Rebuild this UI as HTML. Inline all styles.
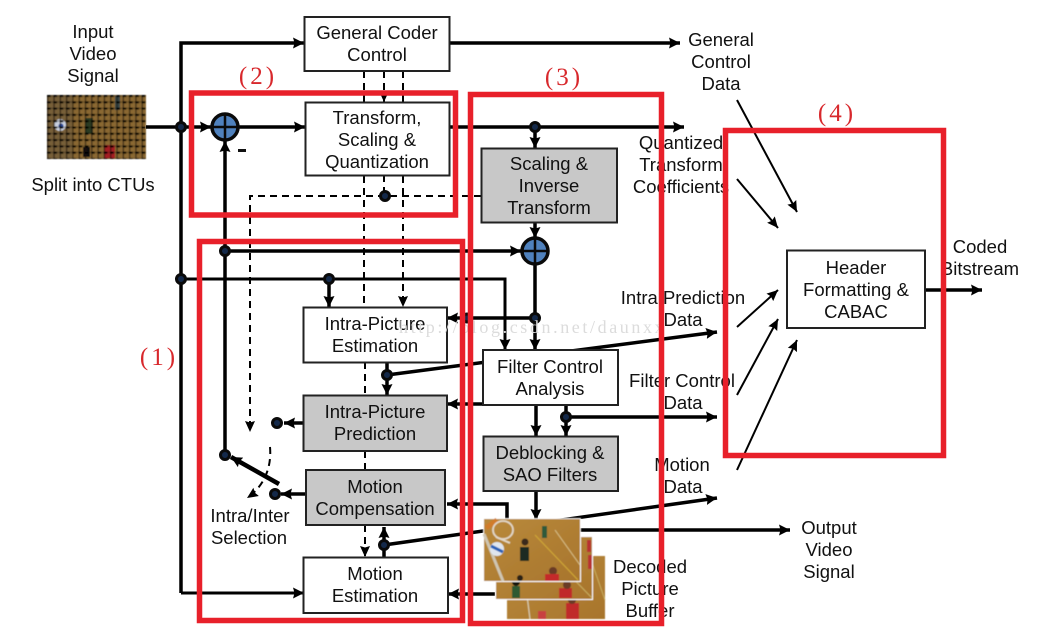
<!DOCTYPE html>
<html><head><meta charset="utf-8"><style>
html,body{margin:0;padding:0;background:#fff;width:1055px;height:633px;overflow:hidden}
svg{display:block;filter:blur(.35px)}
text{font-family:"Liberation Sans",Arial,sans-serif;font-size:18.5px;fill:#111;text-anchor:middle}
.box{stroke:#222;stroke-width:2;fill:#fff}
.g{fill:#c8c8c8}
.l{stroke:#000;stroke-width:3.5;fill:none}
.m{stroke:#000;stroke-width:3;fill:none}
.t{stroke:#000;stroke-width:2;fill:none}
.d{stroke:#000;stroke-width:2;fill:none;stroke-dasharray:7 5}
.j{fill:#14294a;stroke:#0a0a0a;stroke-width:3}
.r{fill:none;stroke:#e8202a;stroke-width:5.5}
.rt{font-family:"Liberation Serif",serif;font-size:25px;fill:#d8282c;letter-spacing:3px}
.w{font-family:"Liberation Serif",serif;font-size:18px;fill:#dcdcdc;text-anchor:start;letter-spacing:2.6px}
</style></head><body>
<svg width="1055" height="633" viewBox="0 0 1055 633" xmlns="http://www.w3.org/2000/svg">
<defs>
<marker id="a" markerUnits="userSpaceOnUse" markerWidth="14" markerHeight="14" refX="11" refY="6" orient="auto"><path d="M0,0.500L11,6L0,11.500L1.500,6Z" fill="#000"/></marker>
<marker id="b" markerUnits="userSpaceOnUse" markerWidth="14" markerHeight="14" refX="11" refY="6" orient="auto"><path d="M0,1L11,6L0,11L1.500,6Z" fill="#000"/></marker>
<pattern id="grid" width="6.3" height="6.3" patternUnits="userSpaceOnUse" x="47" y="95">
<rect x="0" y="0" width="1.5" height="6.3" fill="#15110a" opacity=".55"/><rect x="0" y="0" width="6.3" height="1.5" fill="#15110a" opacity=".3"/><rect x="0" y="0" width="3.6" height="2" fill="#000"/>
</pattern>
<linearGradient id="court" x1="0" y1="0" x2="1" y2="1"><stop offset="0" stop-color="#b98a3c"/><stop offset="1" stop-color="#a8752c"/></linearGradient>
<filter id="bl"><feGaussianBlur stdDeviation="0.6"/></filter>
</defs>
<rect width="1055" height="633" fill="#fff"/>

<!-- input image -->
<g filter="url(#bl)">
<rect x="47" y="95" width="99" height="64" fill="#8a6830"/>
<rect x="47" y="95" width="25" height="64" fill="#6f5a3a" opacity=".7"/>
<circle cx="60" cy="125" r="6" fill="#c9d0e0"/><circle cx="61" cy="126" r="2.500" fill="#2b4a9a"/>
<rect x="85" y="118" width="8" height="16" fill="#2a3a20"/><rect x="83" y="147" width="7" height="10" fill="#111"/>
<rect x="104" y="145" width="11" height="13" fill="#a51e22"/><rect x="115" y="96" width="5" height="14" fill="#3a4a4a"/>
<rect x="47" y="95" width="99" height="64" fill="url(#grid)"/>
</g>

<!-- labels under boxes -->
<text x="93" y="38">Input</text><text x="93" y="60">Video</text><text x="93" y="82">Signal</text>
<text x="93" y="191">Split into CTUs</text>
<text x="721" y="46">General</text><text x="721" y="68">Control</text><text x="721" y="90">Data</text>
<text x="681" y="149">Quantized</text><text x="681" y="171">Transform</text><text x="681" y="193">Coefficients</text>
<text x="683" y="304">Intra Prediction</text><text x="683" y="326">Data</text>
<text x="682" y="387">Filter Control</text><text x="683" y="409">Data</text>
<text x="682" y="471">Motion</text><text x="683" y="493">Data</text>
<text x="980" y="253">Coded</text><text x="980" y="275">Bitstream</text>
<text x="829" y="534">Output</text><text x="829" y="556">Video</text><text x="829" y="578">Signal</text>
<text x="650" y="573">Decoded</text><text x="650" y="595">Picture</text><text x="650" y="617">Buffer</text>
<text x="250" y="522">Intra/Inter</text><text x="249" y="544">Selection</text>
<rect x="238" y="149" width="8" height="3" fill="#111"/>

<!-- solid lines -->
<path class="l" d="M146,127H211" marker-end="url(#a)"/>
<path class="l" d="M239,127H305" marker-end="url(#a)"/>
<path class="l" d="M181,593V43H304" marker-end="url(#a)"/>
<path class="m" d="M181,593H304" marker-end="url(#a)"/>
<path class="l" d="M449,43H680" marker-end="url(#a)"/>
<path class="l" d="M449,127H684" marker-end="url(#a)"/>
<path class="l" d="M535,127V148" marker-end="url(#a)"/>
<path class="l" d="M225,455V141" marker-end="url(#a)"/>
<path class="l" d="M225,251H521" marker-end="url(#a)"/>
<path class="m" d="M181,279H505V350" marker-end="url(#a)"/>
<path class="l" d="M329,279V307" marker-end="url(#a)"/>
<path class="l" d="M535,222V238" marker-end="url(#a)"/>
<path class="l" d="M535,265V350" marker-end="url(#a)"/>
<path class="l" d="M535,318H447" marker-end="url(#a)"/>
<path class="l" d="M387,375L717,332" marker-end="url(#a)"/>
<path class="l" d="M387,362V395" marker-end="url(#a)"/>
<path class="l" d="M483,404H447" marker-end="url(#a)"/>
<path class="l" d="M303,423H284" marker-end="url(#a)"/>
<path class="l" d="M306,494H281" marker-end="url(#a)"/>
<path d="M279,484L231,457" stroke="#000" stroke-width="4.500" fill="none" marker-end="url(#a)"/>
<path class="l" d="M536,405V436" marker-end="url(#a)"/>
<path class="l" d="M566,405V436" marker-end="url(#a)"/>
<path class="l" d="M566,417H717" marker-end="url(#a)"/>
<path class="l" d="M536,491V520" marker-end="url(#a)"/>
<path class="l" d="M507,520V504H447" marker-end="url(#a)"/>
<path class="l" d="M384,545L717,498" marker-end="url(#a)"/>
<path class="l" d="M384,557V527" marker-end="url(#a)"/>
<path class="l" d="M495,594H448" marker-end="url(#a)"/>
<path class="l" d="M580,530H790" marker-end="url(#a)"/>
<path class="l" d="M925,290H982" marker-end="url(#a)"/>

<!-- thin -->
<path class="t" d="M737,100L797,212" marker-end="url(#b)"/>
<path class="t" d="M737,179L778,228" marker-end="url(#b)"/>
<path class="t" d="M737,327L778,290" marker-end="url(#b)"/>
<path class="t" d="M737,395L778,319" marker-end="url(#b)"/>
<path class="t" d="M737,470L797,340" marker-end="url(#b)"/>

<!-- dashed -->
<path class="d" d="M364,71V102"/>
<path class="d" d="M384,71V102" marker-end="url(#b)"/>
<path class="d" d="M403,71V102"/>
<path class="d" d="M364,176V307"/>
<path class="d" d="M403,176V307" marker-end="url(#b)"/>
<path class="d" d="M384,175V196"/>
<path class="d" d="M481,196H250V432" marker-end="url(#b)"/>
<path class="d" d="M365,362V395"/>
<path class="d" d="M365,451V470"/>
<path class="d" d="M365,525V557" marker-end="url(#b)"/>
<path class="d" d="M270,447C272,470 262,488 247,498" marker-end="url(#b)"/>

<!-- boxes -->
<rect class="box" x="304.500" y="17" width="145" height="54"/>
<rect class="box" x="305.500" y="102.500" width="144" height="73"/>
<rect class="box g" x="481.500" y="148.500" width="135.500" height="74"/>
<rect class="box" x="303.500" y="307.500" width="143.500" height="55"/>
<rect class="box g" x="303.500" y="395.500" width="143.500" height="55.500"/>
<rect class="box g" x="306" y="470" width="139" height="55"/>
<rect class="box" x="303.500" y="557.500" width="144.500" height="55.500"/>
<rect class="box" x="483" y="350" width="135" height="55"/>
<rect class="box g" x="483.500" y="436.500" width="134.500" height="54.500"/>
<rect class="box" x="787" y="250.500" width="138" height="77.500"/>

<text x="377" y="39">General Coder</text><text x="377" y="61">Control</text>
<text x="377" y="124">Transform,</text><text x="377" y="146">Scaling &amp;</text><text x="377" y="168">Quantization</text>
<text x="549" y="170">Scaling &amp;</text><text x="549" y="192">Inverse</text><text x="549" y="214">Transform</text>
<text x="375" y="330">Intra-Picture</text><text x="375" y="352">Estimation</text>
<text x="375" y="418">Intra-Picture</text><text x="375" y="440">Prediction</text>
<text x="375" y="493">Motion</text><text x="375" y="515">Compensation</text>
<text x="375" y="580">Motion</text><text x="375" y="602">Estimation</text>
<text x="550" y="373">Filter Control</text><text x="550" y="395">Analysis</text>
<text x="550" y="459">Deblocking &amp;</text><text x="550" y="481">SAO Filters</text>
<text x="856" y="274">Header</text><text x="856" y="296">Formatting &amp;</text><text x="856" y="318">CABAC</text>

<!-- sum circles -->
<g stroke="#0a0a0a" fill="#4f81bd">
<circle cx="225" cy="127" r="13" stroke-width="3.500"/><path d="M212,127H238M225,114V140" stroke-width="2.500"/>
<circle cx="535" cy="251" r="13" stroke-width="3.500"/><path d="M522,251H548M535,238V264" stroke-width="2.500"/>
</g>

<!-- junctions -->
<g class="j">
<circle cx="181" cy="127" r="4.500"/><circle cx="181" cy="279" r="4.500"/>
<circle cx="225" cy="251" r="4.500"/><circle cx="329" cy="279" r="4.500"/>
<circle cx="535" cy="127" r="4.500"/><circle cx="535" cy="318" r="4.500"/>
<circle cx="467" cy="318" r="4"/><circle cx="385" cy="196" r="4.500"/>
<circle cx="387" cy="375" r="4.500"/><circle cx="277" cy="423" r="4.500"/>
<circle cx="275" cy="494" r="4.500"/><circle cx="225" cy="455" r="4.500"/>
<circle cx="566" cy="417" r="4.500"/><circle cx="384" cy="545" r="4.500"/>
</g>

<!-- decoded picture stack -->
<g filter="url(#bl)">
<rect x="507" y="556" width="98" height="63" fill="url(#court)"/>
<path d="M590,557L605,600" stroke="#c8ae60" stroke-width="1"/>
<path d="M522,556L530,619" stroke="#d8ccb0" stroke-width="1.200"/>
<rect x="566" y="603" width="13" height="16" fill="#c02a2a"/><circle cx="572" cy="600" r="4" fill="#6b3a26"/>
<rect x="538" y="611" width="8" height="8" fill="#c84040"/>
<rect x="495" y="536" width="98" height="64" fill="#fff"/>
<rect x="496" y="537" width="96" height="62" fill="url(#court)"/>
<rect x="512" y="586" width="8" height="12" fill="#2f5a30"/><circle cx="516" cy="582" r="4" fill="#181410"/>
<rect x="559" y="588" width="13" height="10" fill="#c02a2a"/><circle cx="567" cy="585" r="4" fill="#6b3a26"/>
<rect x="588" y="555" width="4" height="14" fill="#b83030"/><rect x="587" y="540" width="4" height="12" fill="#b83030"/>
<path d="M560,565L592,598" stroke="#c8ae60" stroke-width="1"/>
<rect x="483" y="518" width="98" height="64" fill="#fff"/>
<rect x="484" y="519" width="96" height="62" fill="url(#court)"/>
<path d="M484,534L503,581" stroke="#cfc6b2" stroke-width="3"/>
<path d="M535,535L578,580" stroke="#cfa636" stroke-width="1.200"/>
<path d="M555,530L580,565" stroke="#d8c088" stroke-width="1"/>
<path d="M486,528L497,520" stroke="#d07c2c" stroke-width="5"/>
<ellipse cx="503" cy="530" rx="10" ry="9" fill="none" stroke="#e2d8c8" stroke-width="1.800"/>
<path d="M496,537L510,543" stroke="#e2d8c8" stroke-width="2"/>
<circle cx="497" cy="549" r="7" fill="#dfe6ef"/><path d="M491,546L503,552" stroke="#2a62b8" stroke-width="3"/>
<rect x="520" y="547" width="9" height="14" fill="#1f2a20"/><circle cx="525" cy="542" r="3.500" fill="#3a2a1a"/>
<rect x="542" y="526" width="5" height="12" fill="#2d5a3a"/><circle cx="553" cy="571" r="4" fill="#6b3a26"/>
<rect x="545" y="574" width="14" height="7" fill="#c42a2a"/><circle cx="520" cy="578" r="3" fill="#2a2018"/>
</g>

<!-- watermark -->
<text class="w" x="399" y="333">http://blog.csdn.net/daunxx</text>

<!-- red -->
<rect class="r" x="191.500" y="93" width="264" height="122"/>
<rect class="r" x="199.500" y="241.500" width="263" height="379"/>
<rect class="r" x="470.500" y="94.500" width="191" height="529"/>
<rect class="r" x="725.500" y="130.500" width="218" height="325"/>
<text class="rt" x="258" y="84">(2)</text>
<text class="rt" x="159" y="365">(1)</text>
<text class="rt" x="564" y="85">(3)</text>
<text class="rt" x="837" y="121">(4)</text>
</svg>
</body></html>
